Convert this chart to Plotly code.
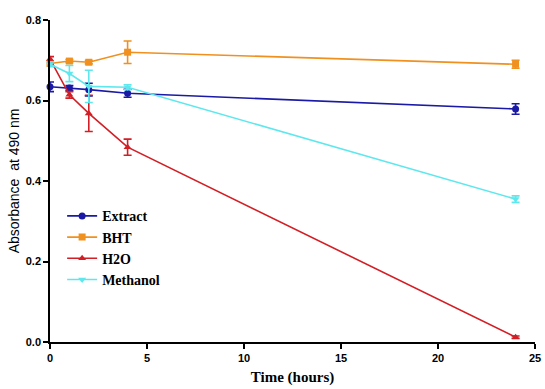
import plotly.graph_objects as go

time = [0, 1, 2, 4, 24]
extract = [0.634, 0.631, 0.627, 0.618, 0.579]
extract_err = [0.012, 0.006, 0.016, 0.010, 0.013]
bht = [0.692, 0.698, 0.695, 0.720, 0.690]
bht_err = [0.006, 0.004, 0.004, 0.028, 0.010]
h2o = [0.703, 0.614, 0.568, 0.484, 0.012]
h2o_err = [0.006, 0.008, 0.045, 0.020, 0.003]
methanol = [0.690, 0.667, 0.635, 0.633, 0.355]
methanol_err = [0.006, 0.020, 0.040, 0.006, 0.008]

names = ["Extract", "BHT", "H2O", "Methanol"]
colors = ["#1a1aa6", "#f0901e", "#d21e24", "#5ee8ee"]
symbols = ["circle", "square", "triangle-up", "triangle-down"]
series = [(extract, extract_err), (bht, bht_err), (h2o, h2o_err), (methanol, methanol_err)]

fig = go.Figure()
for name, col, sym, (vals, errs) in zip(names, colors, symbols, series):
    fig.add_trace(go.Scatter(
        x=time, y=vals, name=name, mode="lines+markers",
        line=dict(color=col, width=1.6),
        marker=dict(symbol=sym, size=7, color=col),
        error_y=dict(type="data", array=errs, color=col, thickness=1.6, width=4),
        cliponaxis=False,
    ))

fig.update_layout(
    width=545, height=389,
    margin=dict(l=50, r=10, t=20, b=47, autoexpand=False),
    paper_bgcolor="white", plot_bgcolor="white",
    showlegend=True,
    legend=dict(x=0.025, y=0.44, xanchor="left", yanchor="top",
                font=dict(family="Liberation Serif", size=14, color="black", weight="bold"),
                bgcolor="rgba(0,0,0,0)", itemwidth=30, tracegroupgap=0),
)
fig.update_xaxes(
    range=[0, 25], tickvals=[0, 5, 10, 15, 20, 25],
    showline=True, linecolor="black", linewidth=1.5,
    ticks="outside", ticklen=5, tickwidth=1.5, tickcolor="black",
    showgrid=False, zeroline=False, automargin=False,
    tickfont=dict(family="Liberation Sans", size=11, color="black", weight="bold"),
    title=dict(text="<b>Time (hours)</b>", font=dict(family="Liberation Serif", size=15, color="black"), standoff=9),
)
fig.update_yaxes(
    range=[0, 0.8], tickvals=[0, 0.2, 0.4, 0.6, 0.8], tickformat=".1f",
    showline=True, linecolor="black", linewidth=1.5,
    ticks="outside", ticklen=5, tickwidth=1.5, tickcolor="black",
    showgrid=False, zeroline=False, automargin=False,
    tickfont=dict(family="Liberation Sans", size=11, color="black", weight="bold"),
    title=dict(text="Absorbance  at 490 nm", font=dict(family="Liberation Sans", size=14, color="black"), standoff=3),
)
fig.write_html("out.html", config={"displayModeBar": False},
               post_script="document.body.style.margin='0';document.body.style.overflow='hidden';")
